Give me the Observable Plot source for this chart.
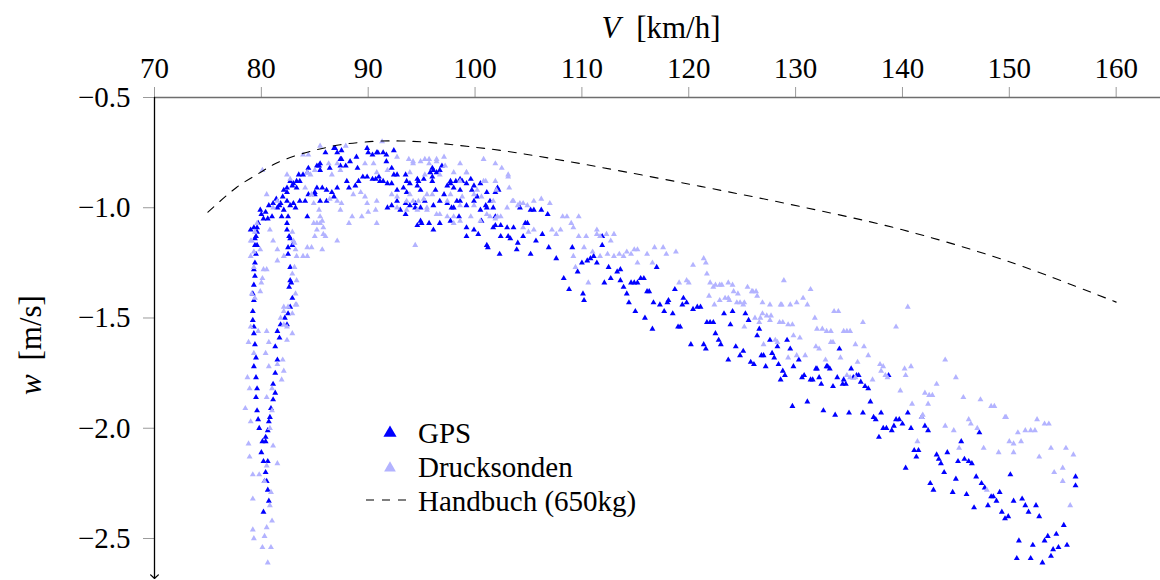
<!DOCTYPE html>
<html>
<head>
<meta charset="utf-8">
<script src="https://cdn.jsdelivr.net/npm/d3@7"></script>
<script src="https://cdn.jsdelivr.net/npm/@observablehq/plot@0.6"></script>
<style>
  html, body { margin: 0; padding: 0; background: #fff; }
  #chart { width: 1160px; height: 580px; }
  #chart svg text { font-family: 'Liberation Serif', 'Times New Roman', serif !important; }
</style>
</head>
<body>
<div id="chart"></div>
<script>
// ---- tick labels ----
const xTicks = [70, 80, 90, 100, 110, 120, 130, 140, 150, 160];
const yTicks = [-0.5, -1.0, -1.5, -2.0, -2.5];

// ---- series: GPS  [V km/h, w m/s] ----
const gps = [
[79.6,-1.09],[79.6,-1.11],[79.5,-1.13],[79.4,-1.17],[79.5,-1.21],[79.4,-1.25],[79.3,-1.28],[79.4,-1.31],[79.3,-1.35],[79.2,-1.39],
[79.3,-1.42],[79.2,-1.47],[79.2,-1.51],[79.3,-1.54],[79.3,-1.57],[79.4,-1.62],[79.5,-1.68],[79.3,-1.72],[79.5,-1.77],[79.6,-1.82],
[79.5,-1.86],[79.6,-1.92],[79.7,-1.96],[79.8,-2.00],[80.1,-2.06],[80.4,-2.06],[80.0,-2.11],[80.2,-2.15],[80.6,-2.15],[80.4,-2.20],
[80.3,-2.24],[80.5,-2.24],[80.6,-2.28],[80.7,-2.33],[80.2,-2.38],[79.0,-1.10],[79.3,-1.09],[79.7,-1.07],[79.4,-1.14],[79.6,-1.17],
[82.4,-1.10],[82.7,-1.14],[82.9,-1.17],[82.5,-1.21],[82.4,-1.07],[82.6,-1.13],[82.5,-1.18],[82.7,-1.27],[82.7,-1.33],[82.8,-1.34],
[82.6,-1.36],[82.9,-1.41],[82.7,-1.45],[82.5,-1.48],[82.2,-1.50],[82.4,-1.53],[81.8,-1.53],[81.5,-1.56],[81.7,-1.59],[81.3,-1.63],
[81.5,-1.69],[81.3,-1.75],[81.1,-1.80],[81.3,-1.84],[81.1,-1.87],[80.9,-1.91],[80.8,-1.95],[80.7,-1.97],[80.4,-2.04],[80.6,-2.01],
[86.0,-0.75],[86.9,-0.73],[87.1,-0.75],[88.9,-0.77],[89.9,-0.73],[90.0,-0.75],[90.4,-0.76],[90.9,-0.75],[91.4,-0.75],[91.7,-0.76],
[92.4,-0.74],[85.4,-0.81],[85.5,-0.83],[86.4,-0.82],[87.5,-0.78],[87.4,-0.81],[87.9,-0.81],[88.3,-0.79],[89.0,-0.82],[89.5,-0.86],
[84.4,-0.82],[83.5,-0.85],[83.6,-0.88],[91.7,-0.79],[92.2,-0.82],[92.4,-0.85],[92.7,-0.85],[96.0,-0.82],[96.1,-0.83],[96.4,-0.84],
[96.9,-0.81],[96.7,-0.83],[96.0,-0.86],[89.9,-0.86],[90.4,-0.87],[90.7,-0.87],[91.0,-0.86],[91.1,-0.88],[91.4,-0.88],[91.8,-0.89],
[92.2,-0.89],[92.7,-0.92],[93.6,-0.93],[93.9,-0.89],[94.6,-0.87],[94.7,-0.88],[88.0,-0.88],[88.2,-0.91],[88.8,-0.90],[89.1,-0.88],
[85.2,-0.91],[85.7,-0.91],[85.0,-0.93],[86.1,-0.92],[87.1,-0.91],[86.6,-0.93],[82.7,-0.88],[83.0,-0.89],[83.3,-0.91],[82.1,-0.92],
[82.4,-0.93],[97.4,-0.90],[97.7,-0.88],[98.0,-0.91],[98.6,-0.92],[98.8,-0.88],[99.6,-0.87],[99.9,-0.90],[100.5,-0.89],[101.1,-0.93],
[102.1,-0.91],[102.2,-0.92],[79.9,-1.01],[80.4,-1.02],[80.7,-0.99],[81.1,-0.98],[81.5,-1.00],[81.8,-0.98],[82.1,-1.01],[82.4,-0.97],
[82.7,-0.99],[83.0,-0.98],[80.2,-1.05],[81.0,-1.04],[81.9,-1.04],[82.5,-1.04],[83.6,-0.97],[84.1,-0.97],[84.4,-0.94],[85.0,-0.94],
[85.5,-0.97],[86.1,-0.97],[86.8,-0.95],[83.2,-1.00],[84.3,-1.04],[91.8,-1.00],[92.2,-0.99],[92.7,-0.97],[93.0,-1.01],[93.5,-1.03],
[93.9,-0.99],[94.4,-0.98],[94.9,-1.00],[95.3,-0.97],[96.1,-0.99],[96.7,-0.97],[97.4,-0.98],[98.0,-1.00],[98.3,-0.97],[99.2,-0.99],
[99.9,-0.97],[100.5,-1.01],[101.1,-1.00],[101.7,-1.00],[94.6,-1.08],[95.0,-1.07],[95.7,-1.07],[96.1,-1.10],[99.2,-1.13],[99.9,-1.10],
[100.3,-1.12],[101.1,-1.17],[101.7,-1.09],[102.4,-1.13],[103.1,-1.13],[103.6,-1.09],[103.9,-1.19],[104.5,-1.13],[104.9,-1.07],[105.5,-1.01],
[96.7,-1.07],[97.7,-1.06],[80.0,-1.03],[80.6,-1.05],[81.4,-0.96],[81.7,-0.99],[82.0,-0.95],[82.4,-0.91],[82.9,-0.90],[83.3,-0.88],
[83.9,-0.85],[84.3,-0.84],[85.2,-0.81],[85.5,-0.80],[86.8,-0.73],[87.4,-0.78],[87.5,-0.74],[90.8,-0.75],[93.5,-0.85],[93.6,-0.88],
[93.3,-0.91],[94.6,-0.90],[94.9,-0.92],[95.2,-0.87],[95.8,-0.84],[96.0,-0.88],[96.3,-0.92],[97.1,-0.94],[97.7,-0.89],[98.2,-0.88],
[98.6,-0.87],[99.2,-0.89],[99.7,-0.92],[100.2,-0.95],[101.0,-0.99],[101.4,-0.97],[101.9,-0.93],[93.5,-0.98],[94.4,-1.00],[94.9,-1.06],
[97.8,-1.00],[98.5,-1.04],[99.2,-1.09],[101.2,-1.18],[101.9,-1.08],[102.4,-1.08],[103.0,-1.09],[104.2,-1.00],[105.2,-1.01],[100.6,-1.06],
[101.9,-1.04],[98.6,-0.97],
[102.3,-1.21],[103.3,-1.14],[104.0,-1.16],[105.2,-1.21],[104.7,-1.07],[106.2,-1.01],[106.8,-1.03],[105.7,-1.15],[106.3,-1.12],[106.9,-1.18],
[107.6,-1.23],[108.3,-1.32],[108.8,-1.37],[109.1,-1.18],[109.6,-1.29],[110.1,-1.39],[110.2,-1.42],[110.0,-1.25],[110.5,-1.24],[110.8,-1.23],
[111.1,-1.22],[111.4,-1.25],[111.9,-1.13],[111.9,-1.17],[112.1,-1.34],[112.5,-1.27],[112.7,-1.32],[113.3,-1.29],[113.6,-1.28],[113.6,-1.33],
[113.9,-1.36],[114.2,-1.39],[114.4,-1.43],[114.6,-1.34],[114.9,-1.34],[115.2,-1.34],[115.0,-1.47],[115.5,-1.32],[115.8,-1.32],[116.1,-1.38],
[116.3,-1.38],[115.9,-1.50],[116.6,-1.55],[116.7,-1.43],[117.3,-1.44],[117.0,-1.27],[117.7,-1.47],[118.0,-1.43],[118.1,-1.42],[118.5,-1.48],
[118.7,-1.37],[119.0,-1.54],[119.2,-1.54],[119.5,-1.41],[119.8,-1.43],[119.4,-1.44],[120.2,-1.62],[120.4,-1.46],[120.8,-1.45],[121.1,-1.45],
[121.4,-1.62],[121.6,-1.64],[121.7,-1.52],[122.0,-1.52],[122.3,-1.52],[122.5,-1.57],[122.8,-1.60],[123.0,-1.62],[123.3,-1.48],[124.1,-1.47],
[123.9,-1.53],[124.4,-1.63],[125.3,-1.48],[125.6,-1.51],[126.4,-1.58],[126.6,-1.55],[127.6,-1.60],[128.3,-1.63],[129.2,-1.60],
[123.7,-1.69],[124.8,-1.67],[125.1,-1.65],[125.8,-1.70],[126.1,-1.71],[126.8,-1.67],[127.0,-1.67],[127.2,-1.72],[127.8,-1.66],[128.0,-1.68],
[128.4,-1.71],[128.8,-1.74],[129.0,-1.76],[128.6,-1.78],[129.5,-1.64],[129.7,-1.90],[129.8,-1.72],[130.3,-1.69],[130.6,-1.77],[130.8,-1.76],
[131.1,-1.88],[131.4,-1.78],[131.6,-1.78],[131.9,-1.73],[132.0,-1.73],[132.2,-1.77],[132.4,-1.80],[132.6,-1.92],[132.9,-1.72],[133.0,-1.72],
[133.2,-1.73],[133.5,-1.81],[133.7,-1.94],[133.9,-1.77],[134.1,-1.64],[134.4,-1.80],[134.5,-1.78],[134.7,-1.80],[135.0,-1.93],[135.2,-1.73],
[135.4,-1.77],[135.7,-1.76],[135.9,-1.76],[136.1,-1.79],[136.5,-1.81],[136.8,-1.82],[136.3,-1.93],[137.0,-1.88],[137.3,-1.95],[137.5,-1.96],
[137.8,-2.04],[138.0,-1.93],[138.2,-2.00],[138.5,-2.00],[138.7,-1.76],[139.0,-2.01],[139.2,-1.99],[139.4,-1.96],[139.7,-1.96],[140.0,-1.98],
[140.3,-2.18],[140.5,-1.93],[140.8,-2.00],[141.1,-2.10],[141.5,-2.10],[141.3,-2.13],[141.8,-1.95],[142.1,-1.99],[142.4,-2.01],[142.6,-2.25],
[142.9,-2.28],[143.2,-2.12],[143.4,-2.14],[143.6,-2.16],[143.9,-2.20],[144.2,-2.11],[144.7,-2.29],[145.0,-2.23],[145.2,-2.15],[145.5,-2.06],
[145.8,-2.14],[146.0,-2.30],[146.2,-2.15],[146.5,-2.16],[146.7,-2.36],[146.9,-2.22],[147.4,-2.25],[147.7,-2.27],[147.2,-2.02],[148.0,-2.35],
[148.3,-2.31],[148.5,-2.31],[148.8,-2.33],[149.1,-2.29],[149.3,-2.38],[149.6,-2.41],[149.9,-2.40],[150.1,-2.21],[150.4,-2.33],[150.7,-2.59],
[150.9,-2.51],[151.2,-2.32],[151.5,-2.35],[151.8,-2.38],[152.0,-2.59],[152.2,-2.53],[152.5,-2.35],[152.8,-2.40],[153.1,-2.61],[153.3,-2.51],
[153.6,-2.49],[153.9,-2.58],[154.1,-2.55],[154.4,-2.48],[154.6,-2.54],[155.1,-2.44],[155.4,-2.53],[156.2,-2.26],[156.2,-2.22]
];

// ---- series: Drucksonden  [V km/h, w m/s] ----
const druck = [
[79.1,-1.15],[79.0,-1.22],[79.3,-1.27],[79.6,-1.07],[79.4,-1.11],[80.2,-1.28],[80.5,-1.28],[80.1,-1.32],[80.0,-1.34],[79.9,-1.38],
[79.1,-1.39],[79.0,-1.54],[79.4,-1.41],[81.5,-1.24],[82.1,-1.22],[82.9,-1.11],[83.1,-1.16],[83.3,-1.22],[83.9,-1.22],[83.1,-1.27],
[82.9,-1.30],[83.3,-1.33],[83.2,-1.39],[83.3,-1.44],[82.9,-1.48],[82.1,-1.47],[81.8,-1.50],[82.4,-1.54],[84.9,-1.07],[85.5,-1.07],
[85.2,-1.10],[85.8,-1.12],[85.0,-1.13],[86.0,-1.13],[87.1,-1.15],[84.7,-1.18],[84.3,-1.22],[85.7,-1.19],[88.2,-1.07],[90.8,-1.07],
[94.4,-1.17],[78.8,-1.61],[79.3,-1.66],[78.7,-1.77],[78.9,-1.82],[78.5,-1.91],[79.0,-1.97],[78.8,-2.07],[78.9,-2.13],[79.2,-2.21],
[79.2,-2.32],[79.2,-2.46],[79.3,-2.50],[80.1,-2.54],[80.3,-2.49],[80.5,-2.45],[80.6,-2.61],[80.9,-2.54],[81.0,-2.42],[79.7,-1.56],
[80.5,-1.56],[80.7,-1.61],[80.4,-1.66],[80.7,-1.72],[81.5,-1.71],[82.0,-1.69],[82.1,-1.74],[81.9,-1.78],[81.0,-1.82],[80.5,-1.86],
[81.0,-1.92],[80.8,-2.00],[81.1,-2.08],[81.5,-2.16],[80.5,-2.17],[79.8,-2.21],[80.9,-2.29],[80.8,-2.35],[80.3,-2.24],[82.1,-1.45],
[82.5,-1.45],[83.2,-1.44],[82.1,-1.53],[82.9,-1.57],[82.4,-1.60],
[85.5,-0.72],[87.9,-0.72],[91.3,-0.70],[83.9,-0.76],[84.4,-0.76],[80.1,-0.83],[82.4,-0.85],[82.7,-0.87],[84.3,-0.84],[84.6,-0.85],
[85.0,-0.83],[86.3,-0.80],[86.6,-0.85],[87.1,-0.80],[87.4,-0.83],[89.7,-0.80],[90.5,-0.80],[90.8,-0.84],[91.8,-0.83],[92.7,-0.77],
[93.8,-0.78],[94.2,-0.80],[94.9,-0.79],[95.3,-0.78],[95.7,-0.80],[96.4,-0.78],[97.1,-0.77],[98.6,-0.80],[99.2,-0.84],[100.8,-0.78],
[101.9,-0.80],[103.1,-0.85],[80.5,-0.94],[81.5,-0.97],[81.1,-1.00],[84.1,-0.91],[84.7,-0.94],[84.9,-0.98],[85.4,-1.01],[85.5,-1.04],
[85.7,-1.06],[85.2,-1.07],[85.8,-1.09],[86.4,-0.96],[87.1,-0.97],[87.5,-0.98],[88.6,-0.94],[89.3,-0.93],[89.7,-0.95],[89.9,-0.98],
[90.8,-0.97],[90.7,-1.01],[87.4,-1.01],[88.5,-1.04],[89.4,-1.04],[90.0,-1.02],[92.2,-0.94],[92.7,-0.95],[93.6,-0.97],[93.9,-0.94],
[94.2,-0.97],[94.7,-0.97],[95.2,-0.96],[95.5,-0.94],[96.0,-0.94],[92.7,-1.00],[93.6,-1.01],[94.6,-1.01],[95.5,-1.01],[96.4,-1.03],
[97.4,-1.04],[98.0,-1.07],[98.6,-1.06],[99.6,-1.04],[100.5,-1.06],[101.1,-1.03],[102.1,-1.04],[103.0,-1.00],[103.6,-0.97],[104.2,-0.98],
[97.7,-0.94],[98.8,-0.95],[99.9,-0.94],[101.0,-0.88],[79.0,-1.15],[79.3,-1.20],[79.9,-1.19],[80.8,-1.10],[81.1,-1.15],[81.5,-1.19],
[83.0,-1.15],[83.2,-1.19],[84.3,-1.18],
[94.2,-0.79],[95.7,-0.78],[96.4,-0.79],[97.2,-0.81],[98.0,-0.84],[99.2,-0.84],[100.8,-0.88],[101.9,-0.88],[93.9,-0.84],[95.3,-0.85],
[96.7,-0.85],[98.6,-0.88],[100.2,-0.92],[100.6,-0.95],[101.7,-0.97],[97.4,-0.97],[95.5,-1.00],[98.6,-0.99],[99.9,-0.99],[101.4,-1.04],
[101.9,-1.05],[96.7,-1.03],[98.0,-1.04],[102.4,-1.04],
[102.5,-0.82],[103.1,-0.86],[102.0,-0.92],[103.2,-0.91],[103.5,-0.97],[104.0,-0.99],[104.5,-0.98],[104.9,-0.99],[105.5,-0.97],[106.2,-0.96],
[107.0,-0.98],[104.5,-1.09],[105.0,-1.11],[105.5,-1.10],[107.2,-1.10],[107.6,-1.12],[108.0,-1.10],[108.2,-1.04],[108.6,-1.04],[109.0,-1.07],
[109.2,-1.09],[109.7,-1.04],[109.2,-1.22],[109.4,-1.27],[109.7,-1.13],[110.4,-1.13],[111.4,-1.10],[111.4,-1.12],[110.6,-1.34],[110.2,-1.18],
[111.0,-1.20],[111.7,-1.13],[112.3,-1.12],[113.0,-1.12],[112.7,-1.15],[111.7,-1.22],[112.4,-1.21],[113.0,-1.22],[113.5,-1.21],[113.9,-1.22],
[114.2,-1.20],[114.6,-1.21],[114.9,-1.19],[115.2,-1.19],[115.2,-1.25],[116.1,-1.21],[116.8,-1.18],[117.6,-1.18],[117.9,-1.21],[118.8,-1.20],
[116.6,-1.25],[119.1,-1.34],[119.8,-1.33],[120.0,-1.34],[120.4,-1.26],[121.4,-1.23],[121.6,-1.25],[122.0,-1.34],[122.3,-1.36],[122.9,-1.35],
[123.7,-1.34],[123.7,-1.41],[124.2,-1.38],[124.6,-1.39],[125.5,-1.36],[126.0,-1.38],[124.8,-1.43],[125.1,-1.44],[126.9,-1.43],[127.6,-1.44],
[128.6,-1.44],[129.5,-1.44],[130.1,-1.43],[126.7,-1.50],[127.6,-1.51],[128.5,-1.52],[129.3,-1.53],[128.1,-1.60],[129.8,-1.58],[128.9,-1.33],
[126.3,-1.38],
[121.7,-1.30],[122.5,-1.35],[123.1,-1.35],[124.1,-1.35],[121.9,-1.40],[122.4,-1.44],[122.9,-1.42],[123.4,-1.41],[123.8,-1.42],[124.5,-1.43],
[125.2,-1.43],[125.9,-1.38],[126.4,-1.40],[125.2,-1.54],[126.2,-1.50],[126.6,-1.52],[126.9,-1.48],[127.3,-1.49],[127.7,-1.49],[128.8,-1.52],
[129.7,-1.53],[128.7,-1.44],[130.7,-1.41],[131.1,-1.44],[131.4,-1.37],[127.0,-1.62],[128.3,-1.61],[129.3,-1.68],[130.1,-1.67],[130.9,-1.67],
[130.4,-1.59],[131.8,-1.50],[132.0,-1.55],[132.5,-1.55],[132.9,-1.56],[133.3,-1.56],[131.9,-1.63],[132.2,-1.64],[132.8,-1.69],[133.3,-1.61],
[133.5,-1.61],[133.6,-1.47],[134.0,-1.47],[134.5,-1.56],[134.8,-1.56],[135.1,-1.56],[134.2,-1.68],[135.8,-1.70],[136.4,-1.63],[135.6,-1.62],
[136.3,-1.52],[136.8,-1.67],[134.8,-1.76],[135.1,-1.77],[135.6,-1.77],[137.2,-1.78],[137.9,-1.71],[138.2,-1.72],[138.0,-1.74],[138.4,-1.76],
[138.6,-1.77],[139.4,-1.54],[139.8,-1.83],[140.2,-1.73],[140.3,-1.76],[140.8,-1.72],[140.5,-1.45],[140.9,-1.89],[141.4,-2.06],[141.8,-1.95],
[141.9,-1.94],[142.1,-1.84],[142.4,-1.89],[142.5,-1.85],[142.8,-1.85],[143.2,-1.80],[144.0,-1.99],[144.8,-2.01],[144.0,-1.69],[145.0,-1.77],
[145.7,-1.86],[145.3,-2.09],[146.2,-1.96],[146.4,-1.98],[147.0,-2.00],[147.3,-1.87],[147.6,-2.09],[147.9,-2.28],[148.3,-1.90],[148.6,-1.90],
[149.0,-2.11],[149.6,-1.95],[149.7,-1.95],[150.0,-2.06],[150.4,-2.07],[150.4,-2.11],[150.8,-2.02],[151.1,-2.06],[151.5,-2.01],[152.0,-2.01],
[152.4,-2.01],[152.6,-1.96],[152.8,-2.13],[153.3,-1.98],[153.7,-1.98],[153.9,-2.09],[154.2,-2.20],[155.0,-2.18],[155.3,-2.09],[155.0,-2.24],
[155.7,-2.35],[156.0,-2.12]
];

// ---- series: Handbuch (650kg) polar curve ----
const handV = [75, 77.7, 79.9, 81.1, 82.7, 84.3, 85.8, 87.4, 90.5, 93, 95.5, 99.9, 102.4, 105.5, 111.7, 121.1, 130.4, 140, 150, 160];
const handW = [-1.02, -0.907, -0.84, -0.805, -0.772, -0.748, -0.73, -0.714, -0.699, -0.697, -0.703, -0.725, -0.74, -0.763, -0.816, -0.903, -0.994, -1.10, -1.245, -1.428];

const seriesNames = ["GPS", "Drucksonden", "Handbuch (650kg)"];
const xLabel = "[km/h]", xVar = "V";
const yLabel = "[m/s]", yVar = "w";

const hand = handV.map((v, i) => ({V: v, w: handW[i]}));
const FONT = "'Liberation Serif', 'Times New Roman', serif";
const C_GPS = "#0000ff", C_DR = "#b3b3ff";
const yBottom = -2.6905, yArrow = -2.681;
const fmtY = d => (d < 0 ? "\u2212" : "") + Math.abs(d).toFixed(1);

const svg = Plot.plot({
  width: 1160, height: 580,
  marginTop: 97, marginLeft: 154, marginRight: 0, marginBottom: 0,
  style: {fontFamily: FONT, background: "white", color: "black"},
  x: {domain: [70, 164.15]},
  y: {domain: [yBottom, -0.5]},
  marks: [
    Plot.axisX({anchor: "top", ticks: xTicks, tickSize: 11, tickPadding: 9, fontSize: 29,
                tickFormat: d => String(d), stroke: "#9a9a9a", color: "black", label: null}),
    Plot.axisY({anchor: "left", ticks: yTicks, tickSize: 11, tickPadding: 13, fontSize: 29,
                tickFormat: fmtY, stroke: "#9a9a9a", color: "black", label: null}),
    Plot.ruleY([-0.5], {stroke: "#6e6e6e", strokeWidth: 1.4}),
    Plot.arrow([0], {x1: 70, x2: 70, y1: -0.5, y2: yArrow, stroke: "black", strokeWidth: 1.3,
                     headLength: 6, headAngle: 95}),
    Plot.dot(gps, {x: d => d[0], y: d => d[1], symbol: "triangle", r: 2.2, fill: C_GPS}),
    Plot.dot(druck, {x: d => d[0], y: d => d[1], symbol: "triangle", r: 2.2, fill: C_DR}),
    Plot.line(hand, {x: "V", y: "w", stroke: "black", strokeWidth: 1.1, strokeDasharray: "8,8", curve: "catmull-rom"})
  ]
});

document.getElementById("chart").appendChild(svg);

// ---- axis titles and legend ----
const s = d3.select(svg);
const xt = s.append("text").attr("x", 661).attr("y", 38).attr("text-anchor", "middle")
  .attr("font-size", 31).attr("fill", "black");
xt.append("tspan").attr("font-style", "italic").text(xVar);
xt.append("tspan").attr("dx", 8).text(" " + xLabel);

const yt = s.append("text").attr("transform", "translate(41,345) rotate(-90)").attr("text-anchor", "middle")
  .attr("font-size", 31).attr("fill", "black");
yt.append("tspan").attr("font-style", "italic").text(yVar);
yt.append("tspan").attr("dx", 6).text(" " + yLabel);

const lg = s.append("g").attr("font-size", 29).attr("fill", "black").attr("text-anchor", "start");
const tri = d3.symbol().type(d3.symbolTriangle);
lg.append("path").attr("d", tri.size(75)()).attr("transform", "translate(390,433)").attr("fill", C_GPS);
lg.append("text").attr("x", 418).attr("y", 443).attr("text-anchor", "start").text(seriesNames[0]);
lg.append("path").attr("d", tri.size(60)()).attr("transform", "translate(390,468)").attr("fill", C_DR);
lg.append("text").attr("x", 418).attr("y", 477).attr("text-anchor", "start").text(seriesNames[1]);
lg.append("line").attr("x1", 366).attr("x2", 410).attr("y1", 500).attr("y2", 500)
  .attr("stroke", "black").attr("stroke-width", 1.1).attr("stroke-dasharray", "8,8");
lg.append("text").attr("x", 418).attr("y", 511).attr("text-anchor", "start").text(seriesNames[2]);

s.selectAll("text").style("font-family", FONT);
</script>
</body>
</html>
